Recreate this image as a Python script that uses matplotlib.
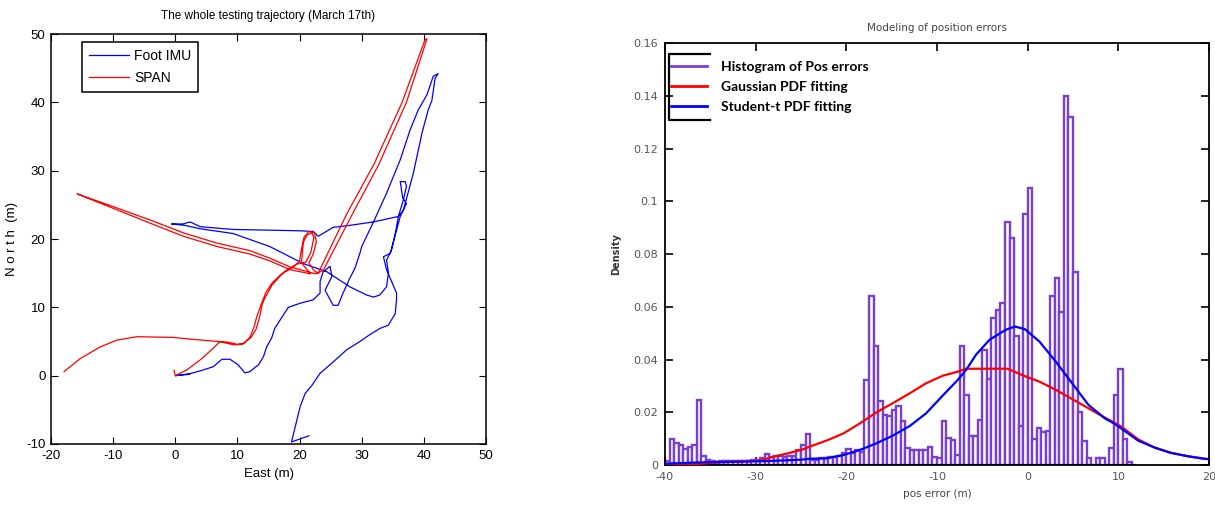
import numpy as np
import matplotlib
matplotlib.use("Agg")
import matplotlib.pyplot as plt
from matplotlib.lines import Line2D

plt.rcParams['axes.unicode_minus'] = False

# ---------------- Left panel data (East / North in m) ----------------
imu_east = [2.3, 0.0, 2.4, 4.0, 6.1, 7.5, 8.8, 10.1, 11.2, 12.0, 13.4, 14.2, 14.7, 15.5, 16.0,
            17.4, 18.2, 20.1, 22.2, 23.3, 23.3, 23.8, 24.9, 25.2, 24.1, 25.4, 26.2, 27.0, 28.1,
            28.9, 29.7, 30.0, 31.9, 34.0, 36.2, 37.8, 39.1, 40.5, 41.5, 42.3, 41.8, 41.3, 40.7,
            39.7, 38.3, 36.7, 35.9, 31.9, 28.1, 25.4, 23.0, 22.2, 20.1, 14.7, 9.3, 4.0, 2.4, 1.2,
            -0.6, 1.5, 4.0, 9.3, 15.2, 20.6, 24.4, 28.1, 30.8, 31.9, 32.9, 34.0, 34.3, 34.0, 34.8,
            35.4, 35.9, 36.7, 37.2, 37.0, 36.2, 36.6, 37.2, 36.2, 34.6, 33.5, 34.0, 35.6, 35.6,
            35.4, 34.3, 32.9, 31.3, 29.7, 27.6, 25.4, 23.3, 22.0, 20.9, 20.1, 19.3, 18.7, 21.5]
imu_north = [0.2, 0.0, 0.3, 0.7, 1.3, 2.4, 2.4, 1.6, 0.4, 0.6, 1.6, 2.8, 4.2, 5.5, 6.9,
             8.9, 10.0, 10.6, 11.1, 12.1, 13.8, 15.2, 16.0, 14.5, 12.5, 10.3, 10.3, 12.1, 14.3,
             15.7, 17.9, 18.9, 22.5, 26.7, 31.6, 36.0, 38.9, 41.1, 43.8, 44.2, 43.5, 40.3, 38.9,
             35.5, 29.6, 24.2, 23.3, 22.5, 22.0, 21.7, 20.4, 21.1, 21.2, 21.3, 21.4, 21.8, 22.5, 22.2,
             22.2, 22.0, 21.5, 20.8, 18.9, 16.4, 15.2, 13.0, 11.8, 11.5, 11.8, 13.0, 15.0, 16.9, 18.4,
             20.8, 23.3, 25.7, 27.7, 28.4, 28.4, 26.0, 25.2, 23.3, 17.9, 17.4, 15.5, 12.1, 11.1,
             9.1, 7.4, 6.9, 6.0, 5.0, 3.8, 2.0, 0.35, -1.4, -2.6, -4.5, -7.5, -9.7, -8.8]

span_east = [-0.2, 0.0, 1.8, 4.0, 6.1, 7.2, 8.5, 9.9, 11.0, 12.0, 12.7, 13.1, 13.9, 14.6, 15.6,
             17.0, 19.0, 20.0, 20.3, 20.7, 21.5, 22.4, 22.7, 22.2, 21.5, 22.3, 23.0, 27.5, 32.0,
             36.5, 40.2, 40.5, 37.2, 32.8, 28.3, 23.8, 22.6, 18.5, 15.2, 12.0, 6.7, 1.3, -4.1,
             -10.5, -15.8, -15.5, -10.3, -4.0, 1.3, 6.7, 12.0, 15.2, 18.5, 21.8, 20.3, 20.6, 21.2,
             22.0, 22.3, 21.8, 21.0, 19.5, 17.5, 15.6, 14.5, 14.0, 13.5, 13.0, 12.2, 10.8, 9.5,
             7.0, 2.9, -0.3, -6.2, -9.4, -12.1, -15.3, -17.9]
span_north = [0.8, 0.0, 0.8, 2.3, 4.0, 5.0, 4.9, 4.6, 4.7, 5.6, 7.2, 8.6, 10.6, 12.2, 13.6,
              14.8, 15.9, 16.8, 18.5, 20.2, 21.1, 20.9, 19.6, 17.8, 16.5, 15.4, 15.0, 23.5, 31.0,
              40.0, 49.2, 49.3, 40.0, 31.0, 23.3, 15.4, 14.9, 15.9, 17.2, 18.3, 19.4, 20.9, 22.8,
              24.9, 26.6, 26.5, 24.6, 22.3, 20.4, 18.9, 17.8, 16.8, 15.5, 14.9, 16.5, 19.5, 20.6,
              20.9, 20.2, 18.0, 16.6, 16.3, 15.2, 13.3, 11.5, 10.5, 8.3, 6.8, 5.6, 4.6, 4.5,
              5.0, 5.3, 5.6, 5.7, 5.2, 4.2, 2.5, 0.6]

left_xticks = [-20, -10, 0, 10, 20, 30, 40, 50]
left_yticks = [-10, 0, 10, 20, 30, 40, 50]

# ---------------- Right panel data ----------------
bin_start = -40.0
bin_width = 0.5
hist_density = [
    0.0015, 0.0097, 0.0082, 0.0074, 0.0061, 0.0068, 0.0075, 0.0248,
    0.0035, 0.0020, 0.0017, 0.0013, 0.0015, 0.0015, 0.0016, 0.0015,
    0.0015, 0.0015, 0.0015, 0.0018, 0.0020, 0.0025, 0.0043, 0.0030,
    0.0033, 0.0033, 0.0030, 0.0035, 0.0035, 0.0055, 0.0074, 0.0118,
    0.0020, 0.0020, 0.0025, 0.0025, 0.0030, 0.0032, 0.0035, 0.0045,
    0.0060, 0.0045, 0.0055, 0.0050, 0.0323, 0.0640,
    0.0450, 0.0243, 0.0190, 0.0184, 0.0209, 0.0222, 0.0165, 0.0063,
    0.0057, 0.0057, 0.0057, 0.0057, 0.0070, 0.0030, 0.0025, 0.0168,
    0.0101, 0.0095, 0.0038, 0.0450,
    0.0266, 0.0110, 0.0110, 0.0170, 0.0437, 0.0325, 0.0557, 0.0589,
    0.0614, 0.0920, 0.0860, 0.0490, 0.0146, 0.0950, 0.1050,
    0.0100, 0.0140, 0.0127, 0.0130, 0.0640, 0.0710, 0.0580, 0.1400,
    0.1320, 0.0730, 0.0200, 0.0090, 0.0025, 0.0000, 0.0025, 0.0025,
    0.0000, 0.0063, 0.0266, 0.0363, 0.0100, 0.0013, 0.0000]

gauss_x = [-40, -37.5, -35, -31.5, -29.5, -28.2, -27.1, -26, -24.9, -24, -22, -20.3, -18.5,
           -16.7, -14.9, -13, -11.2, -9.4, -7.7, -6.8, -2.2, -0.55, 1.3, 3.1, 4.9, 6.7, 8.5,
           10.3, 12.2, 14.0, 15.8, 17.7, 19.5, 20.5]
gauss_y = [0.0, 0.0, 0.0008, 0.0015, 0.0017, 0.003, 0.0039, 0.0048, 0.0058, 0.007, 0.0095,
           0.012, 0.0158, 0.0199, 0.0234, 0.0272, 0.031, 0.0338, 0.0354, 0.0365, 0.0365, 0.034,
           0.0316, 0.0285, 0.025, 0.0215, 0.018, 0.0146, 0.0097, 0.0066, 0.0046, 0.0033, 0.0023,
           0.002]

student_x = [-40, -36, -31, -28, -25, -24, -22.2, -20.3, -18.5, -16.7, -14.9, -13, -11.2, -9.4,
             -7.7, -6.8, -5.7, -4.2, -2.4, -1.4, -0.3, 1.3, 3.1, 4.9, 6.7, 8.5, 9.5, 10.3, 12.2,
             14.0, 15.8, 17.7, 19.5, 20.5]
student_y = [0.0005, 0.001, 0.0013, 0.0016, 0.002, 0.0024, 0.0025, 0.0038, 0.0057, 0.0082,
             0.0111, 0.0148, 0.0196, 0.0262, 0.0323, 0.036, 0.0418, 0.0475, 0.0513, 0.0525,
             0.0515, 0.0468, 0.0392, 0.031, 0.0228, 0.0177, 0.0158, 0.0139, 0.0092, 0.0066,
             0.0046, 0.0033, 0.0024, 0.0021]

right_xticks = [-40, -30, -20, -10, 0, 10, 20]
right_xlabels = ['-40', '-30', '-20', '-10', '0', '10', '20']
right_yticks = [0, 0.02, 0.04, 0.06, 0.08, 0.10, 0.12, 0.14, 0.16]
right_ylabels = ['0', '0.02', '0.04', '0.06', '0.08', '0.1', '0.12', '0.14', '0.16']

# ---------------- Styles ----------------
NARROW = ['Liberation Sans Narrow', 'Liberation Sans', 'DejaVu Sans']
BOLD_LEG = ['Lato', 'Open Sans', 'DejaVu Sans']
PURPLE = '#7b3fd0'
BLUE = '#0000ff'
RED = '#ff0000'
W, H = 1215, 505

fig = plt.figure(figsize=(W / 100, H / 100), dpi=100)
fig.patch.set_facecolor('white')

# ================= Left panel =================
ax1 = fig.add_axes([51 / W, (H - 444) / H, 435 / W, 410 / H])
ax1.plot(imu_east, imu_north, color=BLUE, lw=0.9, label='Foot IMU')
ax1.plot(span_east, span_north, color=RED, lw=0.9, label='SPAN')
ax1.set_xlim(-20, 50)
ax1.set_ylim(-10, 50)
ax1.set_xticks(left_xticks)
ax1.set_yticks(left_yticks)
ax1.tick_params(direction='in', top=True, right=True, length=5, width=0.8,
                labelsize=9.5, pad=4)
for lab in ax1.get_xticklabels() + ax1.get_yticklabels():
    lab.set_family(NARROW)
for s in ax1.spines.values():
    s.set_linewidth(1.1)
ax1.set_title('The whole testing trajectory (March 17th)', fontsize=8.5,
              family=NARROW, pad=11)
ax1.set_xlabel('East (m)', fontsize=9.5, family=NARROW, labelpad=5)
ax1.set_ylabel('N o r t h  (m)', fontsize=9.5, family=NARROW, labelpad=6)
leg1 = ax1.legend(loc='upper left', bbox_to_anchor=(0.071, 0.98), fancybox=False,
                  edgecolor='black', framealpha=1, handlelength=2.9, handletextpad=0.35,
                  labelspacing=0.55, borderpad=0.5, borderaxespad=0,
                  prop={'family': NARROW, 'size': 10})
leg1.get_frame().set_linewidth(1.1)

# ================= Right panel =================
ax2 = fig.add_axes([665 / W, (H - 465) / H, 544 / W, 422 / H])
centers = bin_start + bin_width * (np.arange(len(hist_density)) + 0.5)
ax2.bar(centers, hist_density, width=bin_width, color='white', edgecolor=PURPLE,
        linewidth=1.7, zorder=2)
ax2.plot(gauss_x, gauss_y, color=RED, lw=1.6, zorder=3)
ax2.plot(student_x, student_y, color=BLUE, lw=1.6, zorder=4)
ax2.set_xlim(-40, 20)
ax2.set_ylim(0, 0.16)
ax2.set_xticks(right_xticks)
ax2.set_xticklabels(right_xlabels)
ax2.set_yticks(right_yticks)
ax2.set_yticklabels(right_ylabels)
ax2.tick_params(direction='in', top=True, right=True, length=6, width=1.2,
                labelsize=8, labelcolor='#555555', pad=5)
for s in ax2.spines.values():
    s.set_linewidth(1.3)
ax2.set_title('Modeling of position errors', fontsize=7.5, color='#444444', pad=9)
ax2.set_xlabel('pos error (m)', fontsize=7.5, color='#444444', labelpad=5)
ax2.set_ylabel('Density', fontsize=7, fontweight='bold', color='#333333', labelpad=9)

handles = [Line2D([0], [0], color=PURPLE, lw=2),
           Line2D([0], [0], color=RED, lw=2),
           Line2D([0], [0], color=BLUE, lw=2)]
labels = ['Histogram of Pos errors', 'Gaussian PDF fitting', 'Student-t PDF fitting']
ax2.legend(handles, labels, loc='upper left', bbox_to_anchor=(0.011, 0.957),
           frameon=False, handlelength=2.6, handletextpad=1.0, labelspacing=0.56,
           borderpad=0, borderaxespad=0,
           prop={'family': BOLD_LEG, 'weight': 'bold', 'size': 10})
ax2.plot([0.083, 0.007, 0.007, 0.083], [0.974, 0.974, 0.818, 0.818],
         transform=ax2.transAxes, color='black', lw=1.6, clip_on=False, zorder=5)

fig.savefig('out.png', dpi=100, facecolor='white')
